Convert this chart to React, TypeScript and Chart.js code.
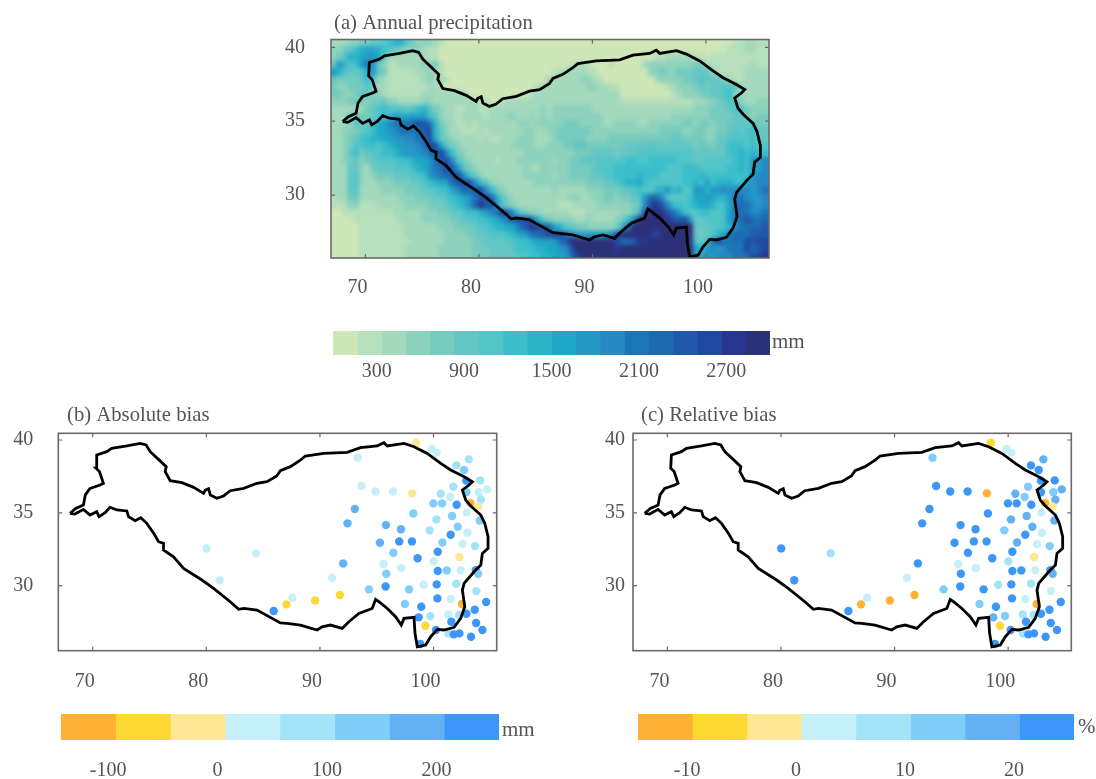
import React, { useEffect, useRef } from "react";
import { Chart, registerables } from "chart.js";

Chart.register(...registerables);

const lonTicks = [70, 80, 90, 100];
const latTicks = [30, 35, 40];
const lonRange = [66.97, 105.56];
const latRange = [25.54, 40.46];
const latRangeTop = [25.74, 40.53];

// precipitation levels (base-18 digit per 0.5 degree cell), lat 40.25 -> 25.75, lon 67.25 -> 105.25
const precipRows = [
  "2223344556 7886433321 0000000000 0000000000 0000000000 0000000000 0000000000 0112211",
  "3345789987 6543332110 0000000000 0000000000 0000000000 0000000000 0000000000 1112211",
  "346889aa95 2222222110 0000000000 0000000000 0000000000 0000000112 2222110111 1111111",
  "5a867aca53 1122223341 0000000000 0000000000 0011110001 0000023333 3333442111 1111211",
  "a865568a54 1111122321 0000000000 0000000001 1222211000 0000003343 3444555311 1112222",
  "5444457532 1111112322 1000000000 0000000022 2222332100 0000000233 3344565553 2112222",
  "4334446422 1111111221 0000000000 0000001222 2222233221 1000000001 2333454556 6622222",
  "4433455332 1111112222 2222000000 0000012222 2222222222 2000000000 1233344556 7322222",
  "3334443445 3322223322 2222221100 1222222222 2222222222 2111111111 1111223345 6532233",
  "2222224567 6665678643 2211221122 2222222323 3333332222 2222222222 2222333444 5664333",
  "2225544567 8a99a9a763 2212222122 2332232323 3333333322 2222222222 3333333444 4554344",
  "2223555789 bcccdfed84 3211212222 2223323333 3444333322 3333223333 3344344344 5555544",
  "2233456799 abcccdef85 3221112122 2222332233 4444443333 3333333344 4433443344 5656755",
  "2234577889 9aabbcdf95 4322221211 2223332223 4444433334 4444444444 5544443355 6666755",
  "2234667767 89aaabcff9 6432222222 2233332233 3445544444 4455556555 5555454455 7776766",
  "2235745667 789aaabcef b743222222 2222333333 3334445555 4555666666 6666555555 7787877",
  "2234534566 6677899ace fb64322221 2223333332 3344555666 6677667777 7666556666 6787aab",
  "2225532455 5666789acd fea6432222 2222322333 3344445666 7777777776 6677766666 7787a9b",
  "2225632344 4555667abc defb753222 2222333332 3344445566 7777877766 6677787777 7777abb",
  "2225632233 3444556789 9deffb7532 2222223333 3333344455 6788976666 667787a788 8779abb",
  "2225622223 3334445567 79bddefb74 3222222223 2222233344 455676688a 7866aa8aab abbbabc",
  "1224522222 2233344455 6789acefd8 5322222222 2233223344 34456addb6 556799a988 accbaab",
  "1113311122 2223333444 5678adgeea 6432222222 1112222333 33345bfgeb 7767899867 9cdcbab",
  "0011111111 1222223334 4556778abd fd96433222 2211122222 23347fhhge ca76677667 acdcbbc",
  "0000111111 1122223333 3445667789 bceffe9643 3332232222 347bhhhhhg eeea556667 acdedcd",
  "0000011111 1112222223 3344456678 89acegfed9 8654433333 48chhhhhhh hhhh555667 8bcddde",
  "0000011111 1112222222 3333445566 6789acdeff fdba9aa9ab fhhhhhgfhh hhhh545689 cddceee",
  "0000011111 1111222222 3333344555 5667789a9a cehhhhhhhh fddegghhhh hhhh657cec cdcfeff",
  "0000011111 1112222223 3333344455 5567778899 abehhhhhhh ghhhhhhhhh hhhh98abab cccfdef",
  "0000011111 1112222223 3333344455 5556677889 9acfhhhhhh hhhhhhhhhh hhhha9aabb bccdffg",
];

const precipColors = [
  "#cfe6b7", "#b6dfbb", "#a3d9bc", "#8dd2bc", "#75cbbe", "#63c6c4", "#52c5c9", "#3cbfcb", "#2bb3c8",
  "#1ea7c5", "#2598c6", "#2689c4", "#1c75b6", "#1e6ab0", "#2158a9", "#1f4aa0", "#28358f", "#2c3079",
];
const biasColors = ["#ffb133", "#ffd933", "#ffe794", "#c5eff9", "#a3e4f8", "#80cdfa", "#63b0f3", "#3d97f9"];

const outlineLon = [
  68.0, 68.5, 69.18, 69.35, 69.76, 70.65, 70.94, 70.59, 70.29, 70.35, 71.23, 71.68, 73.0, 74.17, 74.7, 75.06, 75.79,
  76.47, 76.38, 76.82, 77.85, 78.88, 79.76, 79.9, 80.2, 80.35, 80.93, 81.52, 82.1, 83.29, 84.46, 85.34, 86.2, 86.52,
  87.4, 88.28, 88.72, 90.34, 92.4, 93.57, 95.04, 95.63, 95.93, 97.4, 98.28, 99.45, 100.63, 101.51, 102.69, 103.42,
  103.13, 102.54, 102.83, 103.28, 104.16, 104.51, 104.8, 104.8, 104.3, 104.16, 103.57, 102.69, 102.54, 102.75, 102.39,
  101.81, 100.92, 100.34, 99.75, 99.31, 98.57, 98.37, 98.28, 97.4, 97.16, 96.66, 95.93, 95.19, 94.9, 94.6, 93.43,
  92.55, 91.96, 90.93, 90.19, 89.75, 88.28, 87.11, 86.52, 84.46, 83.29, 82.85, 82.1, 80.64, 79.61, 78.0, 77.11, 76.23,
  76.23, 75.79, 75.41, 74.76, 74.23, 73.73, 73.15, 73.0, 72.12, 71.53, 71.09, 70.56, 70.35, 69.76, 69.18, 68.44, 68.0,
];
const outlineLat = [
  34.97, 35.31, 35.54, 36.23, 36.68, 36.91, 37.03, 37.83, 38.06, 38.97, 39.2, 39.43, 39.59, 39.77, 39.66, 39.2, 38.67,
  38.17, 37.83, 37.21, 37.07, 36.75, 36.34, 36.55, 36.66, 36.23, 36.0, 36.16, 36.52, 36.68, 37.03, 37.14, 37.53, 37.89,
  38.17, 38.62, 38.9, 39.08, 39.15, 39.47, 39.59, 39.81, 39.59, 39.77, 39.54, 39.08, 38.4, 37.94, 37.48, 37.14, 36.91,
  36.57, 35.88, 35.47, 34.85, 34.28, 33.36, 32.56, 32.22, 31.42, 30.96, 30.16, 29.7, 28.56, 27.76, 27.14, 26.96, 27.0,
  26.5, 25.93, 25.81, 26.73, 27.83, 27.76, 27.3, 27.87, 28.44, 28.9, 29.06, 28.44, 28.1, 27.53, 27.07, 27.3, 27.18,
  26.96, 27.3, 27.41, 27.45, 28.33, 28.45, 28.38, 28.9, 29.82, 30.39, 31.19, 31.99, 32.45, 32.91, 33.02, 33.55, 34.28,
  34.67, 34.46, 34.74, 35.13, 35.2, 35.38, 35.01, 34.74, 35.08, 34.85, 35.24, 34.92, 34.97,
];

const stationLon = [
  98.48, 99.87, 100.28, 93.34, 103.1, 102.01, 102.69, 102.89, 104.1, 93.66, 94.9, 96.43, 98.13, 101.75, 100.63, 101.45,
  102.89, 103.98, 104.72, 104.16, 103.25, 103.92, 99.98, 100.75, 102.04, 102.92, 93.07, 98.22, 101.63, 100.25, 104.07,
  92.43, 95.81, 102.13, 97.13, 99.66, 102.98, 101.51, 95.28, 96.98, 98.1, 100.78, 102.54, 103.66, 100.37, 96.46, 102.28,
  98.6, 100.01, 95.6, 92.05, 97.16, 100.37, 101.16, 102.39, 103.72, 103.92, 95.84, 91.08, 99.13, 100.28, 102.01, 95.78,
  94.31, 97.84, 103.77, 91.75, 89.58, 87.58, 87.05, 100.34, 101.51, 104.63, 102.51, 97.48, 98.92, 103.63, 102.89, 101.28,
  102.25, 99.72, 98.69, 101.57, 103.75, 99.28, 104.3, 100.22, 101.31, 101.78, 102.28, 103.3, 98.84, 80.02, 84.37, 81.17,
  85.93,
];
const stationLat = [
  39.81, 39.38, 39.13, 38.78, 38.67, 38.26, 37.94, 37.21, 37.23, 36.84, 36.47, 36.47, 36.34, 36.79, 36.31, 36.09, 36.41,
  36.41, 36.61, 35.9, 35.67, 35.44, 35.65, 35.65, 35.56, 35.03, 35.26, 34.96, 34.78, 34.55, 34.48, 34.28, 34.16, 34.05,
  33.87, 33.8, 33.64, 33.5, 32.95, 33.04, 33.04, 32.97, 32.86, 32.72, 32.33, 32.26, 31.97, 31.88, 31.67, 31.49, 31.53,
  31.21, 31.01, 31.05, 31.07, 31.07, 30.82, 30.82, 30.55, 30.07, 30.09, 30.14, 29.95, 29.75, 29.75, 29.63, 29.36, 28.99,
  29.18, 28.72, 29.13, 29.08, 28.88, 28.74, 28.74, 28.56, 28.35, 28.08, 28.03, 27.99, 27.92, 27.83, 27.53, 27.44, 27.25,
  26.96, 26.96, 26.71, 26.66, 26.73, 26.5, 26.0, 32.56, 32.22, 30.37, 28.26,
];
const absBias = [
  -18, 32, 32, 32, 82, 82, 132, 232, 82, 32, 32, 32, -18, 82, 82, 32, 132, 32, 32, 82, -118, -18, 132, 132, 232, 32,
  182, 132, 132, 82, 132, 182, 182, 132, 182, 82, 32, 232, 182, 232, 232, 132, 32, 82, 232, 132, -18, 232, 32, 32, 182,
  32, 232, 132, 32, 232, 132, 132, 32, 32, 232, 82, 232, 132, 132, 82, -68, -68, 32, -68, 232, 32, 232, -118, 132, 232,
  232, 232, 32, 82, 82, 232, 232, 232, -68, 232, 232, 82, 232, 232, 232, 232, 32, 32, 32, 232,
];
const relBias = [
  -7, 3, 3, 13, 18, 23, 23, 23, 23, 23, 23, 23, -12, 13, 18, 13, 23, 13, 18, 18, -12, -2, 23, 23, 23, 3, 23, 23, 18, 18,
  18, 23, 23, 18, 23, 13, 3, 23, 23, 23, 23, 18, 3, 13, 23, 23, -2, 23, 8, 3, 23, 3, 23, 23, 3, 23, 18, 23, 3, 8, 23, 8,
  23, 13, 23, 3, -12, -12, 3, -12, 23, 3, 23, -12, 13, 23, 23, 23, 8, 8, 13, 18, 23, 23, -7, 23, 23, 8, 23, 23, 23, 23,
  23, 8, 23, 23,
];

const precipEdges = [0, 167, 333, 500, 667, 833, 1000, 1167, 1333, 1500, 1667, 1833, 2000, 2167, 2333, 2500, 2667, 2833, 3000];
const precipTicks = [300, 900, 1500, 2100, 2700];
const absEdges = [-143, -93, -43, 7, 57, 107, 157, 207, 257];
const absTicks = [-100, 0, 100, 200];
const relEdges = [-14.5, -9.5, -4.5, 0.5, 5.5, 10.5, 15.5, 20.5, 25.5];
const relTicks = [-10, 0, 10, 20];

const FONT = "'Liberation Serif'";
const TEXT = "#555555";
const FRAME = "#6a6a6a";

const annotate = {
  id: "annotate",
  afterDraw(chart: any, _a: any, opts: any) {
    const { ctx, chartArea: ca } = chart;
    if (opts.frame) {
      ctx.save();
      ctx.strokeStyle = FRAME;
      ctx.lineWidth = 1.2;
      const xs = chart.scales.x;
      const ys = chart.scales.y;
      ctx.beginPath();
      xs.ticks.forEach((t: any) => {
        const p = xs.getPixelForValue(t.value);
        ctx.moveTo(p, ca.bottom);
        ctx.lineTo(p, ca.bottom - 4);
        ctx.moveTo(p, ca.top);
        ctx.lineTo(p, ca.top + 4);
      });
      ys.ticks.forEach((t: any) => {
        const p = ys.getPixelForValue(t.value);
        ctx.moveTo(ca.left, p);
        ctx.lineTo(ca.left + 4, p);
        ctx.moveTo(ca.right, p);
        ctx.lineTo(ca.right - 4, p);
      });
      ctx.stroke();
      ctx.lineWidth = 1.6;
      ctx.strokeRect(ca.left, ca.top, ca.right - ca.left, ca.bottom - ca.top);
      ctx.restore();
    }
    (opts.texts || []).forEach((t: any) => {
      ctx.save();
      ctx.font = `${t.size}px ${FONT}`;
      ctx.fillStyle = TEXT;
      ctx.textBaseline = "middle";
      ctx.textAlign = "left";
      ctx.fillText(t.text, t.x, t.y);
      ctx.restore();
    });
  },
  afterDatasetDraw(chart: any, args: any, opts: any) {
    if (!opts.blurIndex && opts.blurIndex !== 0) return;
    if (args.index !== opts.blurIndex) return;
    const { ctx, chartArea: ca } = chart;
    const w = ca.right - ca.left;
    const h = ca.bottom - ca.top;
    ctx.save();
    ctx.beginPath();
    ctx.rect(ca.left, ca.top, w, h);
    ctx.clip();
    ctx.filter = "blur(1.9px)";
    ctx.drawImage(chart.canvas, ca.left, ca.top, w, h, ca.left, ca.top, w, h);
    ctx.restore();
  },
};

function binColor(v: number, edges: number[], colors: string[]) {
  for (let i = 0; i < colors.length; i++) if (v < edges[i + 1]) return colors[i];
  return colors[colors.length - 1];
}

function outlineData() {
  return outlineLon.map((x, i) => ({ x, y: outlineLat[i] }));
}

function mapConfig(box: any, datasets: any[], title: string, titlePos: number[], lats: number[], extra: any = {}) {
  const canvasW = box.w;
  const canvasH = box.h;
  return {
    type: "scatter",
    data: { datasets },
    plugins: [annotate],
    options: {
      animation: false,
      responsive: false,
      layout: {
        autoPadding: false,
        padding: { left: 0, top: box.top, right: canvasW - box.right, bottom: 0 },
      },
      plugins: {
        legend: { display: false },
        title: { display: false },
        tooltip: { enabled: false },
        annotate: { frame: true, texts: [{ text: title, x: titlePos[0], y: titlePos[1], size: 20.7 }], ...extra },
      },
      scales: {
        x: {
          type: "linear",
          min: lonRange[0],
          max: lonRange[1],
          afterFit(s: any) {
            s.height = canvasH - box.bottom;
          },
          afterBuildTicks(s: any) {
            s.ticks = lonTicks.map((value) => ({ value }));
          },
          grid: { display: false, drawTicks: false },
          border: { display: false },
          ticks: {
            autoSkip: false,
            maxRotation: 0,
            padding: box.xPad,
            labelOffset: -8,
            color: TEXT,
            font: { family: FONT, size: 20 },
            callback: (v: any) => String(v),
          },
        },
        y: {
          type: "linear",
          min: lats[0],
          max: lats[1],
          afterFit(s: any) {
            s.width = box.left;
          },
          afterBuildTicks(s: any) {
            s.ticks = latTicks.map((value) => ({ value }));
          },
          grid: { display: false, drawTicks: false },
          border: { display: false },
          ticks: {
            autoSkip: false,
            padding: box.yPad,
            color: TEXT,
            font: { family: FONT, size: 20 },
            callback: (v: any) => String(v),
          },
        },
      },
    },
  };
}

function barConfig(box: any, edges: number[], colors: string[], ticks: number[], unit: any) {
  return {
    type: "bar",
    data: {
      labels: [""],
      datasets: colors.map((c, i) => ({
        data: [[edges[i], edges[i + 1]]],
        backgroundColor: c,
        borderWidth: 0,
        barPercentage: 1,
        categoryPercentage: 1,
        grouped: false,
      })),
    },
    plugins: [annotate],
    options: {
      indexAxis: "y",
      animation: false,
      responsive: false,
      layout: { autoPadding: false, padding: { left: box.left, top: box.top, right: box.w - box.right, bottom: 0 } },
      plugins: {
        legend: { display: false },
        tooltip: { enabled: false },
        annotate: { texts: [unit] },
      },
      scales: {
        y: { display: false },
        x: {
          type: "linear",
          min: edges[0],
          max: edges[edges.length - 1],
          afterFit(s: any) {
            s.height = box.h - box.bottom;
          },
          afterBuildTicks(s: any) {
            s.ticks = ticks.map((value) => ({ value }));
          },
          grid: { display: false, drawTicks: false },
          border: { display: false },
          ticks: {
            autoSkip: false,
            maxRotation: 0,
            padding: box.xPad,
            color: TEXT,
            font: { family: FONT, size: 20 },
            callback: (v: any) => String(v),
          },
        },
      },
    },
  };
}

function stationDataset(values: number[], edges: number[]) {
  return {
    data: stationLon.map((x, i) => ({ x, y: stationLat[i] })),
    pointRadius: 4.2,
    pointBorderWidth: 0,
    pointBackgroundColor: values.map((v) => binColor(v, edges, biasColors)),
    showLine: false,
    order: 1,
  };
}

function outlineDataset() {
  return {
    data: outlineData(),
    showLine: true,
    borderColor: "#000000",
    borderWidth: 2.8,
    pointRadius: 0,
    tension: 0,
    fill: false,
    order: 0,
  };
}

function cellDataset(box: any) {
  const rows = precipRows.map((r) => r.replace(/ /g, ""));
  const cellW = ((box.right - box.left) / (lonRange[1] - lonRange[0])) * 0.5;
  const cellH = ((box.bottom - box.top) / (latRangeTop[1] - latRangeTop[0])) * 0.5;
  const tiles = precipColors.map((c) => {
    const t = document.createElement("canvas");
    t.width = Math.ceil(cellW) + 2;
    t.height = Math.ceil(cellH) + 2;
    const g = t.getContext("2d")!;
    g.fillStyle = c;
    g.fillRect(0, 0, t.width, t.height);
    return t;
  });
  const data: any[] = [];
  const styles: any[] = [];
  rows.forEach((row, r) => {
    for (let c = 0; c < row.length; c++) {
      data.push({ x: 67.25 + c * 0.5, y: 40.25 - r * 0.5 });
      styles.push(tiles[parseInt(row[c], 18)]);
    }
  });
  return { data, pointStyle: styles, pointRadius: 1, pointBorderWidth: 0, showLine: false, order: 2 };
}

const boxes = {
  a: { l: 260, t: 0, w: 560, h: 300, left: 71, right: 509, top: 39.5, bottom: 258, xPad: 18, yPad: 26 },
  b: { l: -5, t: 390, w: 526, h: 310, left: 63.3, right: 501.7, top: 43.3, bottom: 260.7, xPad: 19, yPad: 25 },
  c: { l: 570, t: 400, w: 526, h: 300, left: 63, right: 501.3, top: 33.3, bottom: 250.7, xPad: 19, yPad: 8 },
  ca: { l: 320, t: 320, w: 500, h: 70, left: 13, right: 450, top: 11, bottom: 35, xPad: 5 },
  cb: { l: 50, t: 700, w: 500, h: 79, left: 11, right: 449, top: 14, bottom: 40, xPad: 19 },
  cc: { l: 620, t: 700, w: 476, h: 79, left: 18, right: 454, top: 14, bottom: 40, xPad: 19 },
};

export default function App() {
  const refs = useRef<Record<string, HTMLCanvasElement | null>>({});

  useEffect(() => {
    const configs: Record<string, any> = {
      a: mapConfig(boxes.a, [cellDataset(boxes.a), outlineDataset()], "(a) Annual precipitation", [74, 24], latRangeTop, {
        blurIndex: 0,
      }),
      b: mapConfig(
        boxes.b,
        [stationDataset(absBias, absEdges), outlineDataset()],
        "(b) Absolute bias",
        [72, 26],
        latRange,
      ),
      c: mapConfig(
        boxes.c,
        [stationDataset(relBias, relEdges), outlineDataset()],
        "(c) Relative bias",
        [71, 16],
        latRange,
      ),
      ca: barConfig(boxes.ca, precipEdges, precipColors, precipTicks, { text: "mm", x: 452, y: 22, size: 21 }),
      cb: barConfig(boxes.cb, absEdges, biasColors, absTicks, { text: "mm", x: 452, y: 30, size: 21 }),
      cc: barConfig(boxes.cc, relEdges, biasColors, relTicks, { text: "%", x: 458, y: 27, size: 21 }),
    };
    const charts = Object.keys(configs).map((k) => new Chart(refs.current[k] as HTMLCanvasElement, configs[k]));
    return () => charts.forEach((c) => c.destroy());
  }, []);

  return (
    <div style={{ position: "absolute", left: 0, top: 0, width: 1096, height: 779, background: "#fff", overflow: "hidden" }}>
      {Object.entries(boxes).map(([k, b]) => (
        <canvas
          key={k}
          ref={(el) => {
            refs.current[k] = el;
          }}
          width={b.w}
          height={b.h}
          style={{ position: "absolute", left: b.l, top: b.t, width: b.w, height: b.h }}
        />
      ))}
    </div>
  );
}
